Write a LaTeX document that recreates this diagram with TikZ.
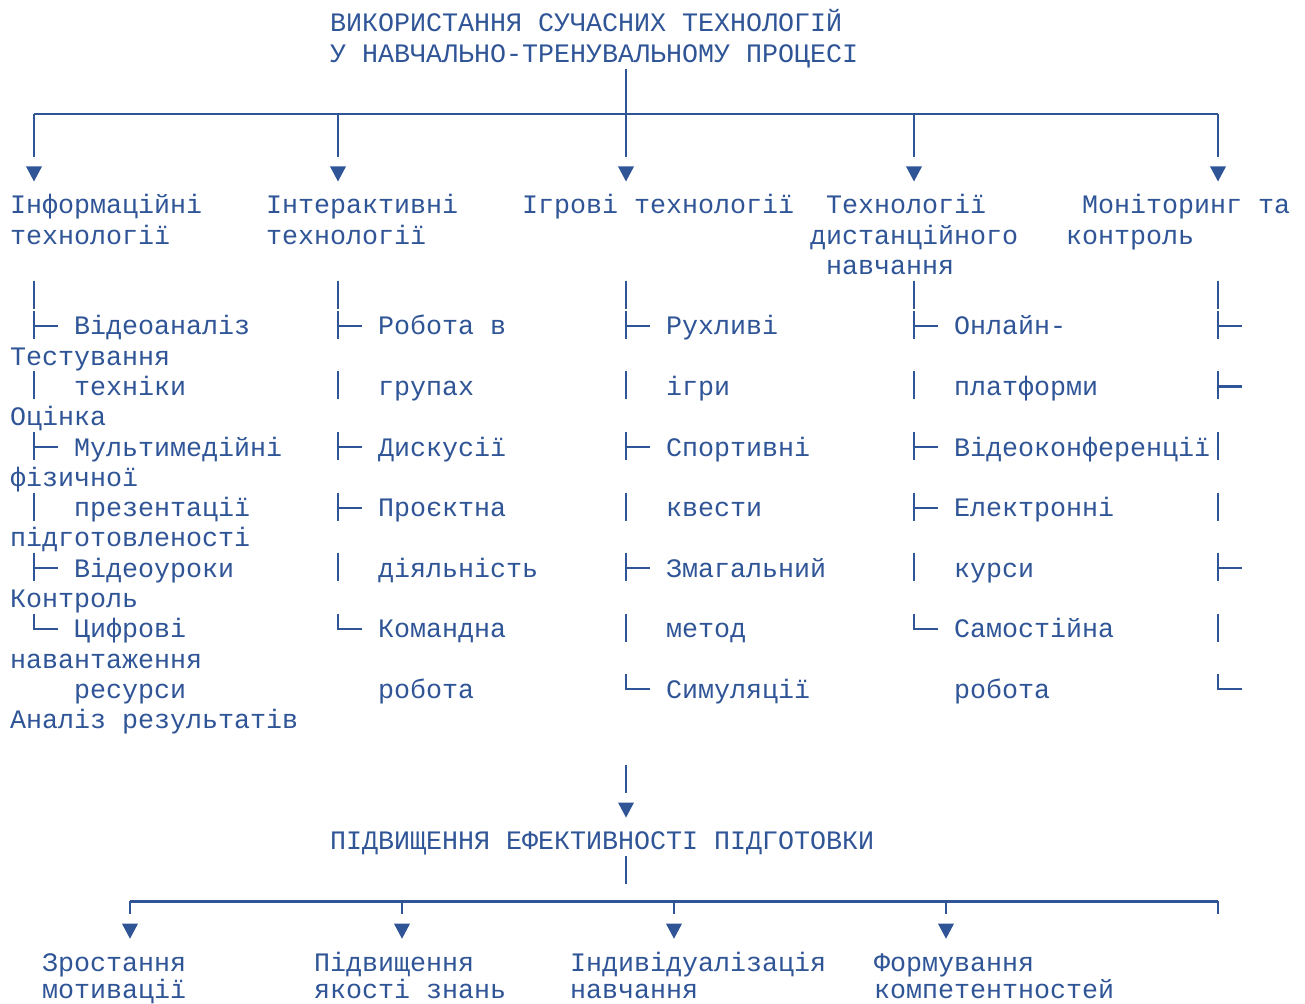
\documentclass[tikz,border=0pt]{standalone}
\usepackage{fontspec}
\newfontfamily\mono{Liberation Mono}
\definecolor{blueone}{HTML}{2F5597}
\newcommand\RC[1]{(22+30.29*(#1))}
\newcommand\CC[1]{(18+16*(#1))}
\newcommand\Tx[4]{\node[txt] (#1) at ({10+16*(#2)},{\RC{#3}+10}) {#4};}
\newcommand\Vb[2]{%
  \coordinate (v#1r#2t) at ({\CC{#1}},{\RC{#2}-14});
  \coordinate (v#1r#2b) at ({\CC{#1}},{\RC{#2}+14});
  \draw[ln] (v#1r#2t) -- (v#1r#2b);}
\newcommand\Tee[2]{%
  \Vb{#1}{#2}
  \coordinate (t#1r#2a) at ({\CC{#1}},{\RC{#2}+1});
  \coordinate (t#1r#2e) at ({10+16*(#1+2)},{\RC{#2}+1});
  \draw[ln] (t#1r#2a) -- (t#1r#2e);}
\newcommand\Ell[2]{%
  \coordinate (l#1r#2t) at ({\CC{#1}},{\RC{#2}-14});
  \coordinate (l#1r#2c) at ({\CC{#1}},{\RC{#2}+1});
  \coordinate (l#1r#2e) at ({10+16*(#1+2)},{\RC{#2}+1});
  \draw[ln] (l#1r#2t) -- (l#1r#2c) -- (l#1r#2e);}
\newcommand\Tri[2]{%
  \coordinate (a#1r#2) at ({\CC{#1}},{\RC{#2}});
  \fill[blueone] ([shift={(-8,-7)}]a#1r#2) -- ([shift={(8,-7)}]a#1r#2) -- ([shift={(0,8)}]a#1r#2) -- cycle;}
\tikzset{
  txt/.style={anchor=base west, inner sep=0pt, outer sep=0pt, text=blueone,
    font=\mono\fontsize{26.67}{30.29}\selectfont},
  ln/.style={draw=blueone, line width=2.2pt, line join=miter}
}
\begin{document}
\begin{tikzpicture}[x=1pt,y=-1pt]
\useasboundingbox (0,0) rectangle (1305,1003);
% title
\Tx{t0}{20}{0}{ВИКОРИСТАННЯ СУЧАСНИХ ТЕХНОЛОГІЙ}
\Tx{t1}{20}{1}{У НАВЧАЛЬНО-ТРЕНУВАЛЬНОМУ ПРОЦЕСІ}
% top connector
\coordinate (ctop) at ({\CC{38}},69);
\coordinate (hL) at ({\CC{1}},{\RC{3}+1.5});
\coordinate (hR) at ({\CC{75}},{\RC{3}+1.5});
\draw[ln] (hL) -- (hR);
\foreach \c in {1,20,56,75} {
  \coordinate (d\c) at ({\CC{\c}},{\RC{3}+1.5});
  \coordinate (e\c) at ({\CC{\c}},{\RC{4}+14});
  \draw[ln] (d\c) -- (e\c);
}
\coordinate (e38) at ({\CC{38}},{\RC{4}+14});
\draw[ln] (ctop) -- (e38);
\foreach \c in {1,20,38,56,75} {\Tri{\c}{5}}
% headers
\Tx{h1a}{0}{6}{Інформаційні}
\Tx{h1b}{0}{7}{технології}
\Tx{h2a}{16}{6}{Інтерактивні}
\Tx{h2b}{16}{7}{технології}
\Tx{h3}{32}{6}{Ігрові технології}
\Tx{h4a}{51}{6}{Технології}
\Tx{h4b}{50}{7}{дистанційного}
\Tx{h4c}{51}{8}{навчання}
\Tx{h5a}{67}{6}{Моніторинг та}
\Tx{h5b}{66}{7}{контроль}
% column 1
\Vb{1}{9}\Tee{1}{10}\Vb{1}{12}\Tee{1}{14}\Vb{1}{16}\Tee{1}{18}\Ell{1}{20}
\Tx{a1}{4}{10}{Відеоаналіз}
\Tx{a2}{0}{11}{Тестування}
\Tx{a3}{4}{12}{техніки}
\Tx{a4}{0}{13}{Оцінка}
\Tx{a5}{4}{14}{Мультимедійні}
\Tx{a6}{0}{15}{фізичної}
\Tx{a7}{4}{16}{презентації}
\Tx{a8}{0}{17}{підготовленості}
\Tx{a9}{4}{18}{Відеоуроки}
\Tx{a10}{0}{19}{Контроль}
\Tx{a11}{4}{20}{Цифрові}
\Tx{a12}{0}{21}{навантаження}
\Tx{a13}{4}{22}{ресурси}
\Tx{a14}{0}{23}{Аналіз результатів}
% column 20
\Vb{20}{9}\Tee{20}{10}\Vb{20}{12}\Tee{20}{14}\Tee{20}{16}\Vb{20}{18}\Ell{20}{20}
\Tx{b1}{23}{10}{Робота в}
\Tx{b2}{23}{12}{групах}
\Tx{b3}{23}{14}{Дискусії}
\Tx{b4}{23}{16}{Проєктна}
\Tx{b5}{23}{18}{діяльність}
\Tx{b6}{23}{20}{Командна}
\Tx{b7}{23}{22}{робота}
% column 38
\Vb{38}{9}\Tee{38}{10}\Vb{38}{12}\Tee{38}{14}\Vb{38}{16}\Tee{38}{18}\Vb{38}{20}\Ell{38}{22}
\Tx{c1}{41}{10}{Рухливі}
\Tx{c2}{41}{12}{ігри}
\Tx{c3}{41}{14}{Спортивні}
\Tx{c4}{41}{16}{квести}
\Tx{c5}{41}{18}{Змагальний}
\Tx{c6}{41}{20}{метод}
\Tx{c7}{41}{22}{Симуляції}
% column 56
\Vb{56}{9}\Tee{56}{10}\Vb{56}{12}\Tee{56}{14}\Tee{56}{16}\Vb{56}{18}\Ell{56}{20}
\Tx{d1}{59}{10}{Онлайн-}
\Tx{d2}{59}{12}{платформи}
\Tx{d3}{59}{14}{Відеоконференції}
\Tx{d4}{59}{16}{Електронні}
\Tx{d5}{59}{18}{курси}
\Tx{d6}{59}{20}{Самостійна}
\Tx{d7}{59}{22}{робота}
% column 75
\Vb{75}{9}\Tee{75}{10}\Tee{75}{12}\Vb{75}{14}\Vb{75}{16}\Tee{75}{18}\Vb{75}{20}\Ell{75}{22}
% lower connector
\Vb{38}{25}
\Tri{38}{26}
\Tx{r0}{20}{27}{ПІДВИЩЕННЯ ЕФЕКТИВНОСТІ ПІДГОТОВКИ}
\Vb{38}{28}
\coordinate (gL) at ({\CC{7}},{\RC{29}+1});
\coordinate (gR) at ({\CC{75}},{\RC{29}+1});
\draw[ln] (gL) -- (gR);
\foreach \c in {7,24,41,58,75} {
  \coordinate (f\c) at ({\CC{\c}},{\RC{29}+1});
  \coordinate (g\c) at ({\CC{\c}},{\RC{29}+14});
  \draw[ln] (f\c) -- (g\c);
}
\foreach \c in {7,24,41,58} {\Tri{\c}{30}}
% results
\Tx{s1a}{2}{31}{Зростання}
\Tx{s2a}{19}{31}{Підвищення}
\Tx{s3a}{35}{31}{Індивідуалізація}
\Tx{s4a}{54}{31}{Формування}
\tikzset{txt/.append style={yshift=3pt}}
\Tx{s1b}{2}{32}{мотивації}
\Tx{s2b}{19}{32}{якості знань}
\Tx{s3b}{35}{32}{навчання}
\Tx{s4b}{54}{32}{компетентностей}
\end{tikzpicture}
\end{document}
